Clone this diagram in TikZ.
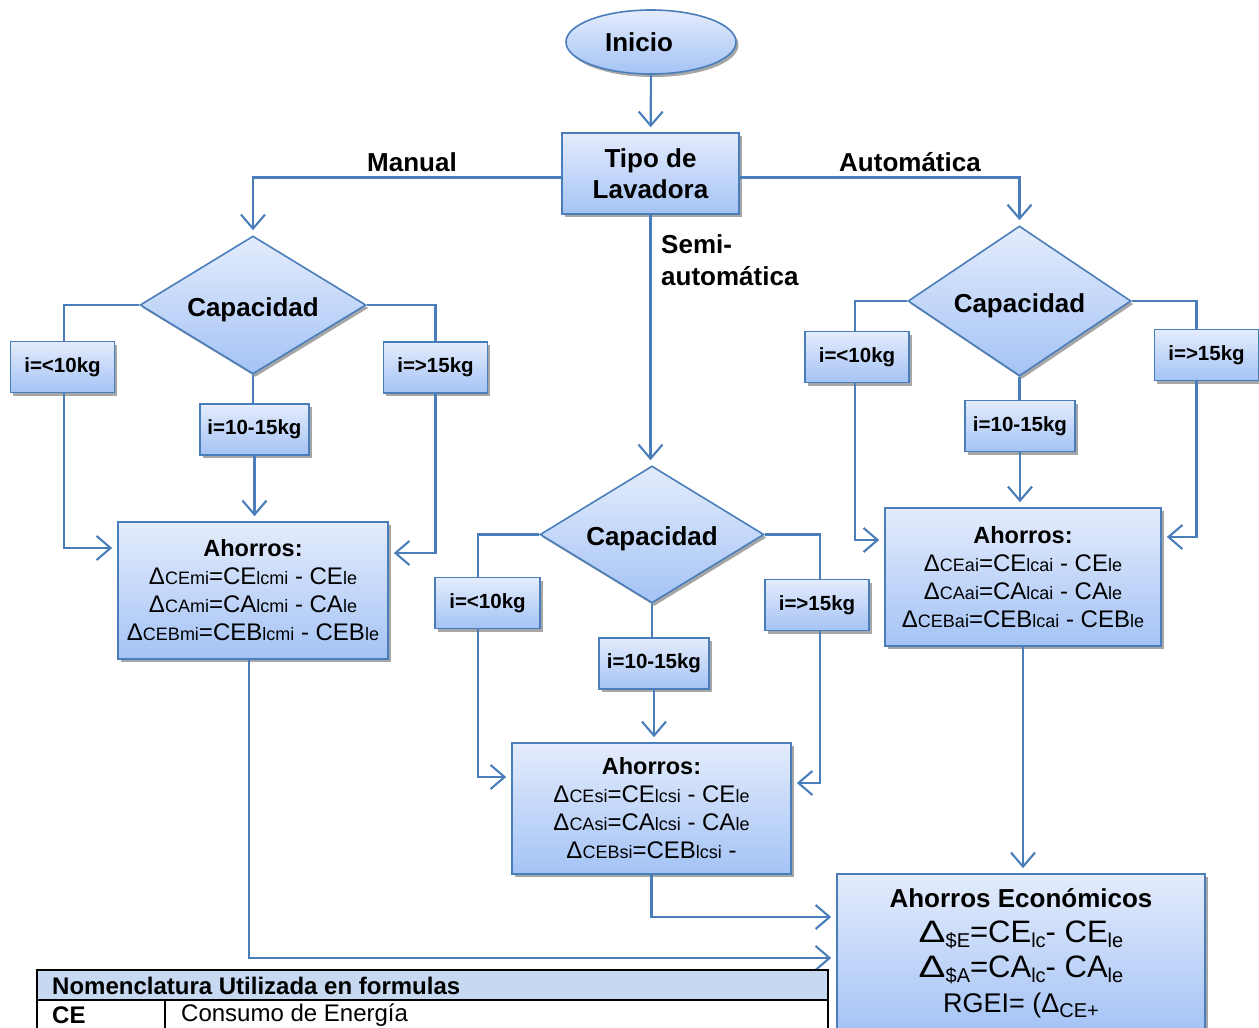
\documentclass[tikz,border=0pt]{standalone}
\usepackage{fontspec}
\setmainfont{Liberation Sans}
\usetikzlibrary{shapes.geometric,arrows.meta,shadows}
\definecolor{bord}{RGB}{74,126,187}
\definecolor{ftop}{RGB}{228,236,252}
\definecolor{fbot}{RGB}{164,195,245}
\definecolor{hdr}{RGB}{198,217,241}
\newcommand\fsz[2]{\fontsize{#1}{#2}\selectfont}
\newcommand\sm[1]{{\fsz{18}{20}#1}}
\newcommand\lsub[1]{\raisebox{-5pt}{\fsz{20}{22}#1}}
\newcommand\bigD{\scalebox{1.3}[1]{Δ}}
\tikzset{
  blk/.style={draw=bord, line width=1.6pt, top color=ftop, bottom color=fbot,
    inner sep=0pt, align=center,
    drop shadow={shadow xshift=2.5pt, shadow yshift=-3pt, fill=black!50, opacity=0.7}},
  box/.style={blk, rectangle},
  dia/.style={blk, diamond},
  small/.style={box, font=\fsz{20.5}{24}\bfseries, minimum height=51pt},
  conn/.style={draw=bord, line width=2.1pt},
  arr/.style={conn, -{Straight Barb[length=14pt,width=24pt]}, shorten >=5pt},
  lbl/.style={font=\fsz{26}{32}\bfseries, align=left, inner sep=0pt},
  ahorro/.style={box, font=\fsz{24}{28}},
  captxt/.style={font=\fsz{26}{30}\bfseries, yshift=-5pt},
  tcell/.style={anchor=west, inner sep=0pt, font=\fsz{24}{28}},
}
\begin{document}
\begin{tikzpicture}[x=1pt,y=-1pt]
\useasboundingbox (0,0) rectangle (1259,1028);
\clip (0,0) rectangle (1259,1028);

% top
\node[blk, ellipse, minimum width=170pt, minimum height=64pt,
  label={[font=\fsz{26}{30}\bfseries, xshift=-12pt]center:Inicio}] (ini) at (651,42) {};
\node[box, minimum width=177pt, minimum height=81pt, font=\fsz{26}{31}\bfseries] (tipo) at (650.5,173.5) {Tipo de\\Lavadora};

\node[lbl] (lman) at (412,162) {Manual};
\node[lbl] (laut) at (910,162) {Automática};
\node[lbl, anchor=west] (lsemi) at (661,260) {Semi-\\automática};

% diamonds
\node[dia, minimum width=226pt, minimum height=138pt,
  label={[captxt]center:Capacidad}] (d1) at (253,305) {};
\node[dia, minimum width=224pt, minimum height=137pt,
  label={[captxt, yshift=1pt]center:Capacidad}] (d2) at (652,534.5) {};
\node[dia, minimum width=223pt, minimum height=150pt,
  label={[captxt]center:Capacidad}] (d3) at (1019.5,301) {};

% small boxes
\node[small, minimum width=104pt] (b1) at (62.5,367) {i=<10kg};
\node[small, minimum width=109pt] (b2) at (254.5,429.5) {i=10-15kg};
\node[small, minimum width=104pt] (b3) at (435.5,367.5) {i=>15kg};
\node[small, minimum width=105pt] (b4) at (487.5,603) {i=<10kg};
\node[small, minimum width=110pt] (b5) at (654,663.5) {i=10-15kg};
\node[small, minimum width=104pt] (b6) at (817,605) {i=>15kg};
\node[small, minimum width=104pt] (b7) at (857,357) {i=<10kg};
\node[small, minimum width=110pt] (b8) at (1020,426) {i=10-15kg};
\node[small, minimum width=104pt] (b9) at (1206.5,355) {i=>15kg};

% ahorros boxes
\node[ahorro, minimum width=270pt, minimum height=137pt] (a1) at (253,590.5)
  {{\fsz{23.5}{28}\bfseries Ahorros:}\\
   Δ\sm{CEmi}=CE\sm{lcmi} - CE\sm{le}\\
   Δ\sm{CAmi}=CA\sm{lcmi} - CA\sm{le}\\
   Δ\sm{CEBmi}=CEB\sm{lcmi} - CEB\sm{le}};
\node[ahorro, minimum width=279pt, minimum height=131pt] (a2) at (651.5,808.5)
  {{\fsz{23.5}{28}\bfseries Ahorros:}\\
   Δ\sm{CEsi}=CE\sm{lcsi} - CE\sm{le}\\
   Δ\sm{CAsi}=CA\sm{lcsi} - CA\sm{le}\\
   Δ\sm{CEBsi}=CEB\sm{lcsi} -};
\node[ahorro, minimum width=276pt, minimum height=138pt] (a3) at (1023,577)
  {{\fsz{23.5}{28}\bfseries Ahorros:}\\
   Δ\sm{CEai}=CE\sm{lcai} - CE\sm{le}\\
   Δ\sm{CAai}=CA\sm{lcai} - CA\sm{le}\\
   Δ\sm{CEBai}=CEB\sm{lcai} - CEB\sm{le}};

% economic savings
\node[box, minimum width=368pt, minimum height=158pt, font=\fsz{31}{35}] (econ) at (1021,953)
  {{\fsz{26}{35}\bfseries Ahorros Económicos}\\
   \bigD\lsub{\$E}=CE\lsub{lc}- CE\lsub{le}\\
   \bigD\lsub{\$A}=CA\lsub{lc}- CA\lsub{le}\\
   {\fsz{27}{35}RGEI= (Δ\lsub{CE+}}};

% connectors
\draw[arr] (ini) -- (tipo);
\draw[arr] ([yshift=-4pt]tipo.west) -| (d1.north);
\draw[arr] ([yshift=-4pt]tipo.east) -| (d3.north);
\draw[arr] (tipo.south) -- (tipo.south |- d2.north);

\draw[conn] (d1.west) -| ([xshift=1.5pt]b1.north);
\draw[conn] (d1.east) -| (b3.north);
\draw[conn] (d1.south) -- (d1.south |- b2.north);
\draw[conn] (d2.west) -| ([xshift=-9.5pt]b4.north);
\draw[conn] (d2.east) -| ([xshift=3pt]b6.north);
\draw[conn] (d2.south) -- (d2.south |- b5.north);
\draw[conn] (d3.west) -| ([xshift=-2pt]b7.north);
\draw[conn] (d3.east) -| ([xshift=-10pt]b9.north);
\draw[conn] (d3.south) -- (d3.south |- b8.north);

\draw[arr] ([xshift=1.5pt]b1.south) |- ([yshift=42.5pt]a1.west);
\draw[arr] (b3.south) |- ([yshift=37.5pt]a1.east);
\draw[arr] (b2.south) -- (b2.south |- a1.north);
\draw[arr] ([xshift=-9.5pt]b4.south) |- ([yshift=31.5pt]a2.west);
\draw[arr] ([xshift=3pt]b6.south) |- ([yshift=25.5pt]a2.east);
\draw[arr] (b5.south) -- (b5.south |- a2.north);
\draw[arr] ([xshift=-2pt]b7.south) |- ([yshift=37pt]a3.west);
\draw[arr] ([xshift=-10pt]b9.south) |- ([yshift=40pt]a3.east);
\draw[arr] (b8.south) -- (b8.south |- a3.north);

\draw[arr] ([xshift=-4pt]a1.south) |- ([yshift=-5pt]econ.west);
\draw[arr] (a2.south) |- ([yshift=36pt]econ.west);
\draw[arr] (a3.south) -- (a3.south |- econ.north);

% nomenclature table
\draw[line width=1.5pt, fill=hdr] (37,970) rectangle (828,1000);
\draw[line width=1.5pt] (37,1000) rectangle (828,1045);
\draw[line width=1.5pt] (165,1000) -- (165,1045);
\node[tcell, font=\fsz{24}{28}\bfseries] (th) at (52,986) {Nomenclatura Utilizada en formulas};
\node[tcell, font=\fsz{24}{28}\bfseries] (t1) at (52,1015) {CE};
\node[tcell] (t2) at (181,1015) {Consumo de Energía};
\end{tikzpicture}
\end{document}
